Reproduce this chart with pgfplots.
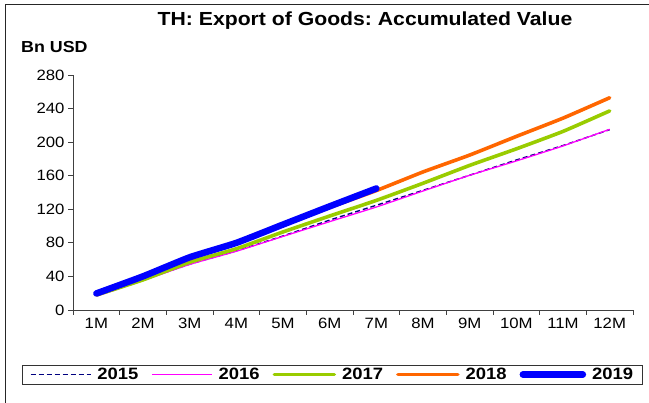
\documentclass[border=0pt]{standalone}
\usepackage{fontspec}
\setmainfont{Liberation Sans}[FakeStretch=1.12]
\usepackage{pgfplots}
\pgfplotsset{compat=1.18}
\definecolor{c2015}{RGB}{0,0,128}
\definecolor{c2016}{RGB}{255,0,255}
\definecolor{c2017}{RGB}{153,204,0}
\definecolor{c2018}{RGB}{255,102,0}
\definecolor{c2019}{RGB}{0,0,255}
\frenchspacing
\begin{document}
\begin{tikzpicture}
\useasboundingbox (0bp,0bp) rectangle (649bp,403bp);
\draw[line width=1bp, black!85] (5.5bp,0bp) -- (5.5bp,398.5bp) -- (649bp,398.5bp);
\node[font=\fontsize{19}{21}\selectfont\bfseries] at (365bp,382bp) {TH: Export of Goods: Accumulated Value};
\node[font=\fontsize{16}{18}\selectfont\bfseries, anchor=west, inner sep=0pt] at (21bp,356bp) {Bn USD};
\begin{axis}[
  at={(73bp,93bp)}, anchor=south west, scale only axis,
  width=560bp, height=235bp,
  xmin=0.5, xmax=12.5, ymin=0, ymax=280,
  ytick={0,40,...,280},
  xtick={1,...,12},
  xticklabels={1M,2M,3M,4M,5M,6M,7M,8M,9M,10M,11M,12M},
  minor xtick={0.5,1.5,...,12.5},
  axis x line*=bottom, axis y line*=left,
  axis line style={-, black!75, line width=0.9bp},
  tick align=outside,
  major tick length=5bp, minor tick length=5bp,
  x tick style={draw=none},
  minor x tick style={draw=black!75, line width=0.9bp},
  y tick style={black!75, line width=0.9bp},
  tick label style={font=\fontsize{15}{16}\selectfont},
  /pgf/number format/assume math mode=true,
  legend columns=5,
  legend style={at={(0.4634,-0.2745)}, anchor=center, draw=black!80, line width=0.9bp,
    font=\fontsize{16.5}{18}\selectfont\bfseries,
    /tikz/every odd column/.append style={column sep=4bp},
    /tikz/every even column/.append style={column sep=11bp},
    inner xsep=7bp, inner ysep=1bp},
  legend image code/.code={\draw[#1] (0bp,0bp) -- (60bp,0bp);},
  every axis plot/.append style={line join=round, smooth, tension=0.3},
]
\addplot[c2015, line width=1.4bp, dash pattern=on 5bp off 3bp] coordinates {
(1,17.5)(2,35.7)(3,54.6)(4,70.5)(5,88.2)(6,107.1)(7,124.8)(8,142.6)(9,160.6)(10,178.7)(11,196.0)(12,214.9)};
\addlegendentry{2015}
\addplot[c2016, line width=1.3bp] coordinates {
(1,16.4)(2,35.1)(3,54.3)(4,70.0)(5,87.7)(6,105.3)(7,122.7)(8,141.8)(9,160.5)(10,177.6)(11,195.5)(12,215.3)};
\addlegendentry{2016}
\addplot[c2017, line width=3.6bp, line cap=round] coordinates {
(1,17.8)(2,35.9)(3,56.9)(4,73.0)(5,93.0)(6,112.0)(7,130.6)(8,151.0)(9,172.3)(10,192.0)(11,212.8)(12,237.2)};
\addlegendentry{2017}
\addplot[c2018, line width=3.6bp, line cap=round] coordinates {
(1,20.0)(2,39.6)(3,61.0)(4,79.3)(5,101.0)(6,122.2)(7,142.3)(8,164.5)(9,184.6)(10,206.8)(11,228.6)(12,252.9)};
\addlegendentry{2018}
\addplot[c2019, line width=6.5bp, line cap=round] coordinates {
(1,19.7)(2,40.1)(3,62.8)(4,80.0)(5,101.8)(6,123.5)(7,144.8)};
\addlegendentry{2019}
\end{axis}
\end{tikzpicture}
\end{document}
